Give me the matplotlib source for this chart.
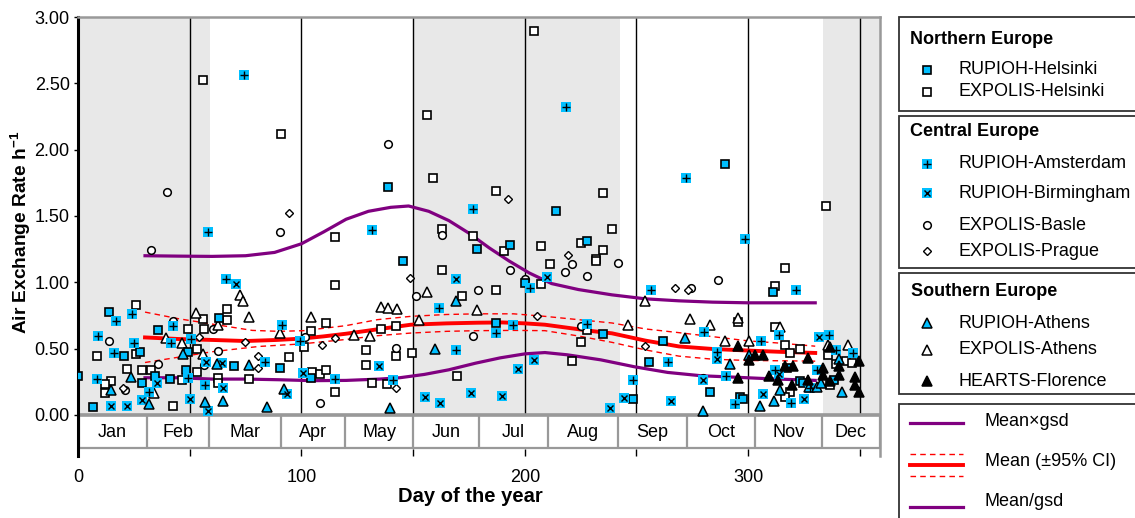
import matplotlib
matplotlib.use('Agg')
import matplotlib.pyplot as plt
from matplotlib.patches import Rectangle

plt.rcParams['font.family'] = ['Liberation Sans', 'DejaVu Sans']
plt.rcParams['mathtext.fontset'] = 'custom'
plt.rcParams['mathtext.rm'] = 'Liberation Sans'
plt.rcParams['mathtext.bf'] = 'Liberation Sans:bold'

# ---------------- data ----------------
rh_day = [0, 14, 35.7, 20.7, 27.9, 49.3, 48.4, 34.5, 41.3, 28.7, 6.9, 63.1, 69.9, 90.4, 104.2, 138.7, 145.5,
          178.8, 193.4, 214, 227.8, 289.7, 200.3, 186.9, 235, 261.9, 255.5, 282.7, 248.4, 296.3, 297.6, 311,
          317.3, 338.6, 323, 324.5]
rh_val = [0.29, 0.773, 0.64, 0.446, 0.474, 0.471, 0.335, 0.295, 0.272, 0.244, 0.063, 0.731, 0.365, 0.35, 0.277,
          1.718, 1.159, 1.252, 1.28, 1.537, 1.31, 1.89, 0.995, 0.693, 0.612, 0.554, 0.395, 0.176, 0.121, 0.134,
          0.119, 0.927, 0.353, 0.265, 0.252, 0.239]

eh_day = [26, 56.1, 49.1, 56.3, 53.1, 26, 8.4, 21.9, 28.7, 32.7, 53.1, 46.6, 14.8, 12.1, 12.1, 42.4, 56.1, 90.7,
          115, 115, 66.9, 66.9, 111, 104.3, 101.3, 94.6, 62.8, 62.8, 76.7, 104.6, 108.4, 111, 115, 135.5, 142.5,
          128.8, 142.5, 149.4, 128.8, 131.8, 138.5, 163.1, 176.9, 163.1, 171.8, 169.8, 204.2, 156.4, 159.1, 187,
          190.7, 234.9, 238.9, 225, 234.9, 207.3, 231.8, 231.8, 211.2, 207.4, 186.9, 227.9, 225, 221.3, 334.8,
          295.6, 316.3, 312.2, 312.2, 316.3, 323, 318.8, 335.7, 339.4, 343.6, 346.6, 336.7, 318.8, 316.3]
eh_val = [0.83, 0.726, 0.65, 0.648, 0.499, 0.459, 0.441, 0.348, 0.335, 0.335, 0.32, 0.262, 0.254, 0.234, 0.164,
          0.068, 2.527, 2.116, 1.343, 0.977, 0.799, 0.718, 0.693, 0.635, 0.509, 0.436, 0.277, 0.244, 0.272, 0.32,
          0.31, 0.34, 0.174, 0.648, 0.668, 0.491, 0.441, 0.466, 0.378, 0.244, 0.232, 1.403, 1.348, 1.091, 0.894,
          0.295, 2.892, 2.26, 1.789, 1.688, 1.234, 1.673, 1.403, 1.298, 1.242, 1.272, 1.179, 1.164, 1.141, 0.99,
          0.94, 0.643, 0.547, 0.41, 1.575, 0.70, 1.108, 0.975, 0.66, 0.524, 0.499, 0.466, 0.453, 0.385, 0.403,
          0.39, 0.227, 0.171, 0.138]

ra_day = [58.1, 24.2, 17, 42.7, 9, 25, 41.6, 50.7, 16.3, 49.4, 8.5, 57, 31.9, 74.5, 66.1, 91.5, 99.4, 83.7, 115,
          131.8, 141.2, 176.9, 161.6, 169.4, 218.5, 272.2, 298.4, 202.5, 194.9, 187.3, 227.9, 256.6, 280.2, 286.1,
          264.2, 248.5, 290.1, 294, 321.2, 313.6, 336.1, 305.8, 339.1, 346.9, 311.8, 330.7, 327.5, 319.3]
ra_val = [1.378, 0.761, 0.705, 0.673, 0.597, 0.542, 0.542, 0.572, 0.466, 0.277, 0.272, 0.224, 0.169, 2.562, 1.025,
          0.68, 0.559, 0.395, 0.27, 1.393, 0.265, 1.55, 0.806, 0.491, 2.318, 1.789, 1.323, 0.957, 0.678, 0.617,
          0.688, 0.945, 0.625, 0.474, 0.398, 0.265, 0.29, 0.083, 0.94, 0.605, 0.605, 0.554, 0.491, 0.466, 0.34,
          0.34, 0.202, 0.093]

rb_day = [57.3, 35.5, 28.7, 50.3, 58, 14.8, 21.8, 70.7, 64.3, 100.6, 65, 93.7, 134.8, 169.1, 155.2, 162.1, 175.8,
          210.1, 203.9, 197, 189.9, 238, 286.1, 279.7, 244.6, 265.5, 331.9, 313.6, 306.6, 325]
rb_val = [0.398, 0.244, 0.113, 0.121, 0.033, 0.068, 0.068, 0.988, 0.39, 0.315, 0.202, 0.159, 0.365, 1.028, 0.138,
          0.093, 0.164, 1.043, 0.413, 0.348, 0.144, 0.05, 0.423, 0.26, 0.131, 0.108, 0.584, 0.31, 0.159, 0.121]

eb_day = [32.5, 42.4, 14, 35.7, 56.3, 20.9, 39.7, 90.4, 60.6, 101.6, 62.8, 108.4, 138.7, 151.2, 142.5, 163.1,
          179.2, 177, 241.8, 221.3, 193.4, 217.9, 227.9, 200.3, 225, 286.6, 274.5, 279.7]
eb_val = [1.24, 0.71, 0.557, 0.385, 0.373, 0.184, 1.68, 1.378, 0.648, 0.587, 0.479, 0.088, 2.046, 0.894, 0.504,
          1.36, 0.94, 0.597, 1.146, 1.139, 1.096, 1.078, 1.045, 1.028, 0.673, 1.02, 0.955, 0.277]

ep_day = [54.3, 20, 94.6, 74.8, 109.1, 115, 80.7, 80.7, 148.7, 142.5, 192.7, 219.3, 205.5, 267.2, 273, 253.6]
ep_val = [0.587, 0.202, 1.524, 0.55, 0.524, 0.577, 0.441, 0.353, 1.03, 0.202, 1.625, 1.209, 0.748, 0.957, 0.94,
          0.516]

rat_day = [47.2, 23.9, 14.8, 31.6, 57, 62.4, 76.7, 92.2, 65, 84.8, 139.5, 169.1, 159.9, 271.9, 291.8, 279.7, 340.6,
           300.5, 327.2, 330.7, 332.6, 314.3, 311.5, 305.5, 342]
rat_val = [0.461, 0.285, 0.184, 0.083, 0.098, 0.385, 0.378, 0.194, 0.108, 0.063, 0.05, 0.857, 0.499, 0.58, 0.385,
           0.033, 0.421, 0.453, 0.214, 0.214, 0.239, 0.184, 0.106, 0.07, 0.169]

ea_day = [52.8, 39.4, 46.6, 56.1, 33.9, 72.5, 73.7, 76.7, 62.8, 90.4, 104.3, 135.5, 138.8, 142.7, 123.6, 130.7,
          152.7, 156.4, 178.8, 253.6, 273.9, 282.7, 295.6, 246.3, 289.8, 314.3, 300.3, 335.5, 344.6]
ea_val = [0.768, 0.582, 0.542, 0.461, 0.164, 0.907, 0.857, 0.736, 0.678, 0.617, 0.738, 0.811, 0.806, 0.801, 0.605,
          0.592, 0.713, 0.925, 0.794, 0.862, 0.726, 0.675, 0.73, 0.675, 0.559, 0.66, 0.559, 0.525, 0.529]

hf_day = [295.5, 295.5, 326.7, 336.5, 303, 306.6, 300.3, 349.8, 340.6, 316.3, 320, 309.5, 313.3, 333.7, 333.7,
          340.6, 347.6, 347.6, 349.8, 336.7, 319.7, 326.7]
hf_val = [0.516, 0.277, 0.428, 0.51, 0.453, 0.453, 0.416, 0.408, 0.365, 0.365, 0.365, 0.29, 0.265, 0.353, 0.302,
          0.302, 0.285, 0.227, 0.176, 0.252, 0.227, 0.265]

upper_day = [30, 45, 60, 75, 88, 100, 110, 120, 130, 140, 148, 157, 166, 175, 184, 193, 202, 212, 224, 239, 254,
             269, 284, 300, 315, 330]
upper_val = [1.20, 1.197, 1.195, 1.20, 1.225, 1.29, 1.38, 1.475, 1.535, 1.565, 1.575, 1.535, 1.465, 1.37, 1.26,
             1.16, 1.07, 0.99, 0.945, 0.905, 0.875, 0.86, 0.85, 0.845, 0.845, 0.845]

mean_day = [30, 45, 60, 75, 89, 100, 110, 120, 134, 149, 165, 179, 190, 200, 209, 220, 230, 239, 254, 269, 284,
            300, 315, 330]
mean_val = [0.584, 0.572, 0.565, 0.557, 0.565, 0.575, 0.592, 0.612, 0.645, 0.68, 0.69, 0.695, 0.697, 0.69, 0.68,
            0.655, 0.632, 0.615, 0.56, 0.516, 0.497, 0.485, 0.475, 0.467]

ciu_day = [30, 45, 60, 78, 90, 101, 120, 134, 149, 165, 179, 195, 209, 224, 239, 254, 269, 284, 300, 315, 330]
ciu_val = [0.775, 0.725, 0.685, 0.637, 0.63, 0.635, 0.673, 0.718, 0.743, 0.757, 0.762, 0.762, 0.743, 0.718,
           0.693, 0.648, 0.62, 0.59, 0.558, 0.54, 0.518]

cil_day = [30, 45, 60, 81, 100, 119, 134, 149, 165, 179, 195, 209, 224, 239, 254, 269, 284, 300, 315, 330]
cil_val = [0.395, 0.435, 0.476, 0.516, 0.535, 0.567, 0.597, 0.617, 0.63, 0.635, 0.637, 0.635, 0.595, 0.547, 0.49,
           0.443, 0.42, 0.41, 0.408, 0.405]

lower_day = [30, 45, 60, 75, 90, 105, 120, 135, 144, 155, 166, 178, 189, 200, 209, 219, 234, 249, 264, 279, 293,
             310, 330]
lower_val = [0.28, 0.28, 0.27, 0.27, 0.265, 0.258, 0.26, 0.27, 0.28, 0.305, 0.34, 0.39, 0.43, 0.46, 0.47, 0.453,
             0.415, 0.363, 0.32, 0.295, 0.285, 0.272, 0.26]

months = ['Jan', 'Feb', 'Mar', 'Apr', 'May', 'Jun', 'Jul', 'Aug', 'Sep', 'Oct', 'Nov', 'Dec']
month_edges = [0, 31, 58.5, 91, 119.5, 150, 179.5, 210.5, 241.5, 272.5, 303, 333, 359]
season_spans = [(0, 59), (150.5, 242.5), (333.5, 359)]

# ---------------- styles ----------------
CYAN = '#00BFFF'
PURPLE = '#800080'
RED = '#FF0000'

st_rh = dict(marker='s', ms=6, mfc=CYAN, mec='black', mew=1.2, ls='none')
st_eh = dict(marker='s', ms=5.5, mfc='white', mec='black', mew=1.2, ls='none')
st_cy = dict(marker='s', ms=7, mfc=CYAN, mec=CYAN, mew=0, ls='none')
st_plus = dict(marker='+', ms=5.5, mec='black', mew=1.0, ls='none')
st_x = dict(marker='x', ms=4.5, mec='black', mew=1.0, ls='none')
st_eb = dict(marker='o', ms=5.5, mfc='white', mec='black', mew=1.1, ls='none')
st_ep = dict(marker='D', ms=3.8, mfc='white', mec='black', mew=1.0, ls='none')
st_rat = dict(marker='^', ms=6.5, mfc=CYAN, mec='black', mew=1.1, ls='none')
st_ea = dict(marker='^', ms=6.5, mfc='white', mec='black', mew=1.1, ls='none')
st_hf = dict(marker='^', ms=6.5, mfc='black', mec='black', mew=1.1, ls='none')

W, H = 1135, 518
fig = plt.figure(figsize=(W / 100, H / 100), dpi=100)


def rect(l, t, r, b):
    return [l / W, 1 - b / H, (r - l) / W, (b - t) / H]


ax = fig.add_axes(rect(78, 17, 880, 456))
ax.set_xlim(0, 359)
ax.set_ylim(-0.31, 3.0)

for a, b in season_spans:
    ax.add_patch(Rectangle((a, 0), b - a, 3.0, fc='#e8e8e8', ec='none', zorder=0))
ax.vlines(range(50, 351, 50), 0, 3.0, color='black', lw=1.0, zorder=1)

# month band
ax.add_patch(Rectangle((0.3, -0.25), 358.7, 0.25, fc='white', ec='#999999', lw=1.6, zorder=1, clip_on=False))
ax.vlines(month_edges[1:-1], -0.25, 0, color='#999999', lw=1.6, zorder=2)
ax.plot([0, 359], [0, 0], color='#999999', lw=2.6, zorder=2, solid_capstyle='butt')
for i, m in enumerate(months):
    ax.text((month_edges[i] + month_edges[i + 1]) / 2, -0.13, m, ha='center', va='center', fontsize=13, zorder=3)

# curves
ax.plot(upper_day, upper_val, color=PURPLE, lw=2.3, zorder=3)
ax.plot(lower_day, lower_val, color=PURPLE, lw=2.3, zorder=3)
ax.plot(mean_day, mean_val, color=RED, lw=2.8, zorder=3)
ax.plot(ciu_day, ciu_val, color=RED, lw=1.0, dashes=(4, 3), zorder=3)
ax.plot(cil_day, cil_val, color=RED, lw=1.0, dashes=(4, 3), zorder=3)

# points
ax.plot(eh_day, eh_val, zorder=4, **st_eh)
ax.plot(eb_day, eb_val, zorder=4, **st_eb)
ax.plot(ep_day, ep_val, zorder=4, **st_ep)
ax.plot(ea_day, ea_val, zorder=4, **st_ea)
ax.plot(rh_day, rh_val, zorder=5, **st_rh)
ax.plot(ra_day, ra_val, zorder=5, **st_cy)
ax.plot(ra_day, ra_val, zorder=6, **st_plus)
ax.plot(rb_day, rb_val, zorder=5, **st_cy)
ax.plot(rb_day, rb_val, zorder=6, **st_x)
ax.plot(rat_day, rat_val, zorder=5, **st_rat)
ax.plot(hf_day, hf_val, zorder=5, **st_hf)

# axes styling
for s in ['top', 'right']:
    ax.spines[s].set_color('#999999')
    ax.spines[s].set_linewidth(1.8)
ax.spines['bottom'].set_visible(False)
ax.spines['left'].set_color('black')
ax.spines['left'].set_linewidth(2.2)
ax.set_xticks(range(0, 351, 50))
ax.set_xticklabels(['0', '', '100', '', '200', '', '300', ''])
ax.tick_params(axis='x', direction='in', length=5, width=1, labelsize=13, pad=9)
ax.set_yticks([0, 0.5, 1.0, 1.5, 2.0, 2.5, 3.0])
ax.set_yticklabels(['%.2f' % v for v in [0, 0.5, 1.0, 1.5, 2.0, 2.5, 3.0]])
ax.tick_params(axis='y', direction='out', length=3, width=1, labelsize=13, pad=3)

fig.text(21 / W, 1 - 232 / H, r'Air Exchange Rate h$^{\mathbf{-1}}$', rotation=90, ha='center', va='center',
         fontsize=13.8, fontweight='bold')
fig.text(470 / W, 1 - 497 / H, 'Day of the year', ha='center', va='center', fontsize=14.5, fontweight='bold')

# ---------------- legend ----------------
lg = fig.add_axes([0, 0, 1, 1], zorder=10)
lg.set_xlim(0, W)
lg.set_ylim(H, 0)
lg.axis('off')
lg.patch.set_alpha(0)
for t, b in [(17, 111), (116, 268), (273, 394), (404, 530)]:
    lg.add_patch(Rectangle((899, t), 260, b - t, fc='white', ec='#333333', lw=1.3, clip_on=False))

MX, TX = 927, 958
lg.text(910, 39, 'Northern Europe', fontsize=13, fontweight='bold', va='center')
lg.text(910, 131, 'Central Europe', fontsize=13, fontweight='bold', va='center')
lg.text(911, 291, 'Southern Europe', fontsize=13, fontweight='bold', va='center')

items = [
    (70, 'RUPIOH-Helsinki', [st_rh]),
    (92, 'EXPOLIS-Helsinki', [st_eh]),
    (164, 'RUPIOH-Amsterdam', [st_cy, st_plus]),
    (193, 'RUPIOH-Birmingham', [st_cy, st_x]),
    (225, 'EXPOLIS-Basle', [st_eb]),
    (251, 'EXPOLIS-Prague', [st_ep]),
    (323, 'RUPIOH-Athens', [st_rat]),
    (350, 'EXPOLIS-Athens', [st_ea]),
    (381, 'HEARTS-Florence', [st_hf]),
]
for y, label, sts in items:
    for s in sts:
        lg.plot([MX], [y], clip_on=False, **s)
    lg.text(TX, y, label, fontsize=13, va='center')

lg.plot([910, 963], [423, 423], color=PURPLE, lw=2.3, clip_on=False)
lg.text(985, 422, 'Mean×gsd', fontsize=13, va='center')
lg.plot([910, 963], [454, 454], color=RED, lw=1.0, dashes=(4, 3), clip_on=False)
lg.plot([910, 963], [465, 465], color=RED, lw=2.8, clip_on=False)
lg.plot([910, 963], [476, 476], color=RED, lw=1.0, dashes=(4, 3), clip_on=False)
lg.text(985, 462, 'Mean (±95% CI)', fontsize=13, va='center')
lg.plot([910, 963], [507, 507], color=PURPLE, lw=2.3, clip_on=False)
lg.text(985, 501, 'Mean/gsd', fontsize=13, va='center')

fig.savefig('out.png', dpi=100)
